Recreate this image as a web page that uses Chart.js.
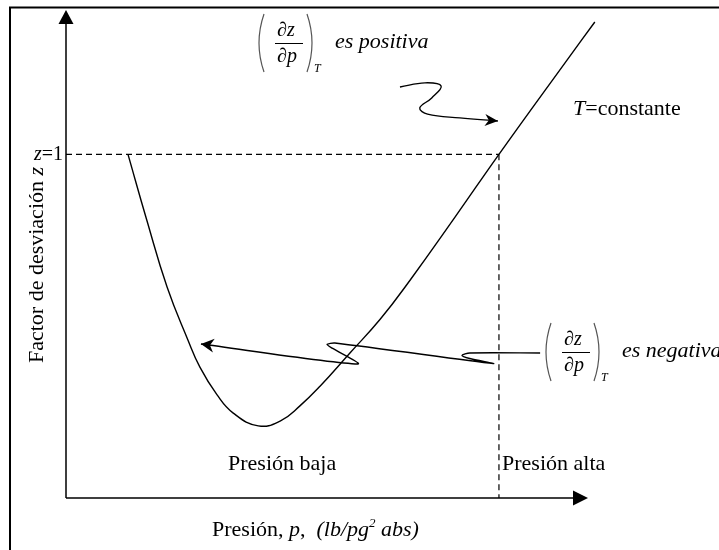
<!DOCTYPE html>
<html>
<head>
<meta charset="utf-8">
<script src="https://cdn.jsdelivr.net/npm/chart.js@4/dist/chart.umd.min.js"></script>
<style>
html, body { margin: 0; padding: 0; background: #fff; }
#wrap { width: 719px; height: 550px; }
</style>
</head>
<body>
<div id="wrap"><canvas id="myChart" width="719" height="550"></canvas></div>
<script>
var presion = [11.9, 15.5, 19.4, 23.4, 25.7, 29.0, 32.1, 36.9, 41.1, 44.9, 48.8, 54.5, 60.3, 66.0, 74.7, 83.1, 96.2, 101.5];
var factorZ = [1.0, 0.809, 0.614, 0.46, 0.381, 0.3, 0.247, 0.21, 0.224, 0.268, 0.326, 0.422, 0.52, 0.633, 0.818, 1.0, 1.275, 1.385];

var zUno = 1.0;          // z = 1
var presionLimite = 83.1; // frontera presion baja / alta

// flecha "es positiva"
var flechaPosX = [64.1, 68.9, 72.0, 70.2, 67.9, 69.4, 75.6, 82.9];
var flechaPosY = [1.196, 1.208, 1.199, 1.164, 1.135, 1.117, 1.106, 1.097];

// flecha "es negativa"
var flechaNegX = [91.0, 77.5, 76.0, 77.5, 82.0, 51.6, 50.1, 51.1, 56.0, 25.9];
var flechaNegY = [0.422, 0.422, 0.415, 0.406, 0.391, 0.451, 0.447, 0.436, 0.39, 0.448];

var xMax = 100, yMax = 1.42;

function pares(xs, ys) {
  var out = [];
  for (var i = 0; i < xs.length; i++) out.push({ x: xs[i], y: ys[i] });
  return out;
}

var serif = '"Liberation Serif", "Times New Roman", serif';

function texto(ctx, x, y, partes) {
  partes.forEach(function (p) {
    ctx.font = (p.i ? 'italic ' : '') + (p.s || 22) + 'px ' + serif;
    ctx.fillText(p.t, x, y + (p.dy || 0));
    x += ctx.measureText(p.t).width;
  });
  return x;
}

function anchoTexto(ctx, partes) {
  var w = 0;
  partes.forEach(function (p) {
    ctx.font = (p.i ? 'italic ' : '') + (p.s || 22) + 'px ' + serif;
    w += ctx.measureText(p.t).width;
  });
  return w;
}

function parentesis(ctx, x, y1, y2, dir) {
  ctx.beginPath();
  ctx.moveTo(x, y1);
  ctx.quadraticCurveTo(x - dir * 10, (y1 + y2) / 2, x, y2);
  ctx.stroke();
}

function derivada(ctx, x, y) {
  // (dz/dp)_T, x = parentesis izquierdo, y = linea de fraccion
  ctx.save();
  ctx.strokeStyle = '#555';
  ctx.lineWidth = 1.2;
  parentesis(ctx, x + 4, y - 29, y + 29, 1);
  parentesis(ctx, x + 47, y - 29, y + 29, -1);
  ctx.strokeStyle = '#000';
  ctx.lineWidth = 1;
  ctx.beginPath();
  ctx.moveTo(x + 15, y + 0.5);
  ctx.lineTo(x + 43, y + 0.5);
  ctx.stroke();
  ctx.fillStyle = '#000';
  texto(ctx, x + 17, y - 7, [{ t: '\u2202', s: 20 }, { t: 'z', i: true, s: 20 }]);
  texto(ctx, x + 17, y + 19, [{ t: '\u2202', s: 20 }, { t: 'p', i: true, s: 20 }]);
  texto(ctx, x + 54, y + 29, [{ t: 'T', i: true, s: 12 }]);
  ctx.restore();
}

function punta(ctx, xs, ys, sx, sy, largo, ancho) {
  var n = xs.length;
  var tx = sx.getPixelForValue(xs[n - 1]), ty = sy.getPixelForValue(ys[n - 1]);
  var px = sx.getPixelForValue(xs[n - 2]), py = sy.getPixelForValue(ys[n - 2]);
  var a = Math.atan2(ty - py, tx - px);
  ctx.save();
  ctx.translate(tx, ty);
  ctx.rotate(a);
  ctx.beginPath();
  ctx.moveTo(0, 0);
  ctx.lineTo(-largo, -ancho);
  ctx.lineTo(-largo * 0.7, 0);
  ctx.lineTo(-largo, ancho);
  ctx.closePath();
  ctx.fillStyle = '#000';
  ctx.fill();
  ctx.restore();
}

var esquema = {
  id: 'esquema',
  afterDatasetsDraw: function (chart) {
    var ctx = chart.ctx, a = chart.chartArea;
    var sx = chart.scales.x, sy = chart.scales.y;
    ctx.save();
    ctx.strokeStyle = '#000';
    ctx.fillStyle = '#000';

    // marco
    ctx.lineWidth = 2;
    ctx.beginPath();
    ctx.moveTo(10, 550);
    ctx.lineTo(10, 7.5);
    ctx.lineTo(719, 7.5);
    ctx.stroke();

    // ejes con flechas
    var x0 = sx.getPixelForValue(0), y0 = sy.getPixelForValue(0);
    ctx.lineWidth = 1.5;
    ctx.beginPath();
    ctx.moveTo(x0, y0);
    ctx.lineTo(x0, a.top + 12);
    ctx.moveTo(x0, y0);
    ctx.lineTo(a.right - 12, y0);
    ctx.stroke();
    ctx.beginPath();
    ctx.moveTo(x0, a.top);
    ctx.lineTo(x0 - 7.5, a.top + 14);
    ctx.lineTo(x0 + 7.5, a.top + 14);
    ctx.closePath();
    ctx.fill();
    ctx.beginPath();
    ctx.moveTo(a.right + 1, y0);
    ctx.lineTo(a.right - 14, y0 - 7.5);
    ctx.lineTo(a.right - 14, y0 + 7.5);
    ctx.closePath();
    ctx.fill();

    // puntas de las flechas curvas
    punta(ctx, flechaPosX, flechaPosY, sx, sy, 13, 6);
    punta(ctx, flechaNegX, flechaNegY, sx, sy, 13, 7);

    // textos
    ctx.textAlign = 'left';
    ctx.textBaseline = 'alphabetic';
    var pz = [{ t: 'z', i: true, s: 20 }, { t: '=1', s: 20 }];
    texto(ctx, x0 - 3 - anchoTexto(ctx, pz), 160, pz);

    texto(ctx, 212, 536, [
      { t: 'Presi\u00f3n, ' }, { t: 'p', i: true }, { t: ',  ' },
      { t: '(lb/pg', i: true }, { t: '2', i: true, s: 13, dy: -9 }, { t: ' abs)', i: true }
    ]);
    texto(ctx, 228, 470, [{ t: 'Presi\u00f3n baja' }]);
    texto(ctx, 502, 470, [{ t: 'Presi\u00f3n alta' }]);
    texto(ctx, 573, 115, [{ t: 'T', i: true }, { t: '=constante' }]);

    derivada(ctx, 260, 43);
    texto(ctx, 335, 48, [{ t: 'es positiva', i: true }]);
    derivada(ctx, 547, 352);
    texto(ctx, 622, 357, [{ t: 'es negativa', i: true }]);

    // titulo eje y
    var ty = [{ t: 'Factor de desviaci\u00f3n ' }, { t: 'z', i: true }];
    ctx.save();
    ctx.translate(43, 265);
    ctx.rotate(-Math.PI / 2);
    texto(ctx, -anchoTexto(ctx, ty) / 2, 0, ty);
    ctx.restore();

    ctx.restore();
  }
};

var linea = { showLine: true, pointRadius: 0, borderColor: '#000', fill: false };

new Chart(document.getElementById('myChart'), {
  type: 'scatter',
  data: {
    datasets: [
      Object.assign({ data: pares(presion, factorZ), borderWidth: 1.4, tension: 0.45, clip: false }, linea),
      Object.assign({ data: [{ x: 0, y: zUno }, { x: presionLimite, y: zUno }], borderWidth: 1.2, borderDash: [6, 4] }, linea),
      Object.assign({ data: [{ x: presionLimite, y: zUno }, { x: presionLimite, y: 0 }], borderWidth: 1.2, borderDash: [6, 4] }, linea),
      Object.assign({ data: pares(flechaPosX, flechaPosY), borderWidth: 1.4, tension: 0.4 }, linea),
      Object.assign({ data: pares(flechaNegX, flechaNegY), borderWidth: 1.4, tension: 0.25 }, linea)
    ]
  },
  options: {
    responsive: false,
    animation: false,
    devicePixelRatio: 1,
    layout: { padding: { left: 66, right: 132, top: 10, bottom: 52 } },
    plugins: { legend: { display: false }, tooltip: { enabled: false }, title: { display: false } },
    scales: {
      x: { type: 'linear', min: 0, max: xMax, display: false },
      y: { type: 'linear', min: 0, max: yMax, display: false }
    }
  },
  plugins: [esquema]
});
</script>
</body>
</html>
